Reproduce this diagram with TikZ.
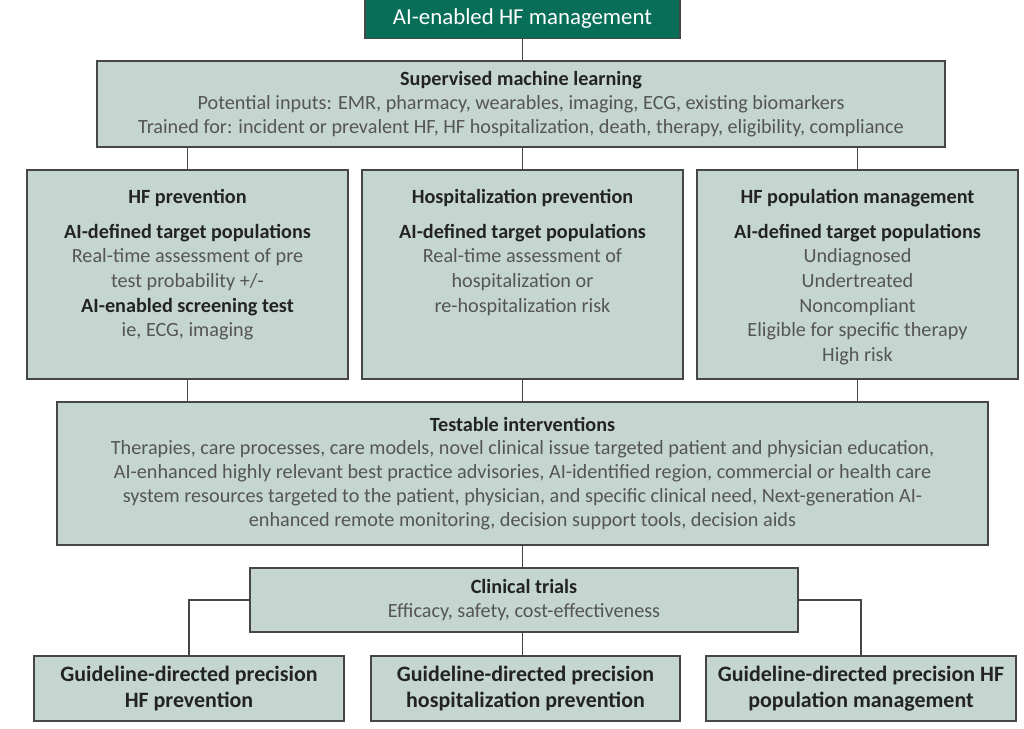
\documentclass[tikz,border=0pt]{standalone}
\usepackage{fontspec}
\setmainfont{Carlito}
\usetikzlibrary{positioning}

\definecolor{hfgreen}{RGB}{8,110,88}
\definecolor{hffill}{RGB}{197,214,209}
\definecolor{hfline}{RGB}{70,70,70}
\definecolor{hftext}{RGB}{85,85,85}
\definecolor{hfhead}{RGB}{35,35,35}

\tikzset{
  sz/.style 2 args={minimum width=#1*0.02cm, minimum height=#2*0.02cm},
  box/.style={draw=hfline, line width=0.8pt, fill=hffill, inner sep=0pt, align=center,
    text=hftext, font=\fontsize{11.5}{13.6}\selectfont},
  txt/.style={inner sep=0pt, align=center, text=hftext, font=\fontsize{11.5}{14}\selectfont},
  goal/.style={box, text=hfhead, font=\fontsize{12.5}{14.5}\selectfont\bfseries},
  link/.style={draw=hfline, line width=0.7pt},
}
\newcommand{\hd}[1]{{\bfseries\color{hfhead}#1}}

\begin{document}
\begin{tikzpicture}[x=0.02cm, y=-0.02cm]
\useasboundingbox (0,0) rectangle (1024,729);

\node[box, sz={315}{40}, fill=hfgreen, text=white, font=\fontsize{13}{15}\selectfont] (top) at (522.5,18.5) {AI-enabled HF management};
\node[box, sz={848}{86}] (sml) at (521,104) {\hd{Supervised machine learning}\\
  Potential inputs: EMR, pharmacy, wearables, imaging, ECG, existing biomarkers\\
  Trained for: incident or prevalent HF, HF hospitalization, death, therapy, eligibility, compliance};

\node[box, sz={321}{209}] (hfp) at (187.5,274.5) {};
\node[box, sz={321}{209}] (hosp) at (522.5,274.5) {};
\node[box, sz={321}{209}] (pop) at (857.5,274.5) {};
\node[txt, below=0.4cm of hfp.north] (hfpt) {\hd{HF prevention}\\[5.6pt]
  \hd{AI-defined target populations}\\
  Real-time assessment of pre\\
  test probability +/-\\
  \hd{AI-enabled screening test}\\
  ie, ECG, imaging};
\node[txt, below=0.4cm of hosp.north] (hospt) {\hd{Hospitalization prevention}\\[5.6pt]
  \hd{AI-defined target populations}\\
  Real-time assessment of\\
  hospitalization or\\
  re-hospitalization risk};
\node[txt, below=0.4cm of pop.north] (popt) {\hd{HF population management}\\[5.6pt]
  \hd{AI-defined target populations}\\
  Undiagnosed\\
  Undertreated\\
  Noncompliant\\
  Eligible for specific therapy\\
  High risk};

\node[box, sz={931}{143}] (test) at (522.5,473.5) {\hd{Testable interventions}\\
  Therapies, care processes, care models, novel clinical issue targeted patient and physician education,\\
  AI-enhanced highly relevant best practice advisories, AI-identified region, commercial or health care\\
  system resources targeted to the patient, physician, and specific clinical need, Next-generation AI-\\
  enhanced remote monitoring, decision support tools, decision aids};

\node[box, sz={548}{64}] (trial) at (524,600) {\hd{Clinical trials}\\ Efficacy, safety, cost-effectiveness};

\node[goal, sz={310}{65}] (g1) at (189,688.5) {Guideline-directed precision\\ HF prevention};
\node[goal, sz={309}{65}] (g2) at (525.5,688.5) {Guideline-directed precision\\ hospitalization prevention};
\node[goal, sz={310}{65}] (g3) at (861,688.5) {Guideline-directed precision HF\\ population management};

\draw[link] (top.south) -- (sml.north -| top.south);
\draw[link] (hfp.north |- sml.south) -- (hfp.north);
\draw[link] (hosp.north |- sml.south) -- (hosp.north);
\draw[link] (pop.north |- sml.south) -- (pop.north);
\draw[link] (hfp.south) -- (test.north -| hfp.south);
\draw[link] (hosp.south) -- (test.north -| hosp.south);
\draw[link] (pop.south) -- (test.north -| pop.south);
\draw[link] (test.south) -- (trial.north -| test.south);
\draw[link] (trial.west) -| (g1.north);
\draw[link] (trial.east) -| (g3.north);
\draw[link] (trial.south -| test.south) -- (g2.north -| test.south);
\end{tikzpicture}
\end{document}
